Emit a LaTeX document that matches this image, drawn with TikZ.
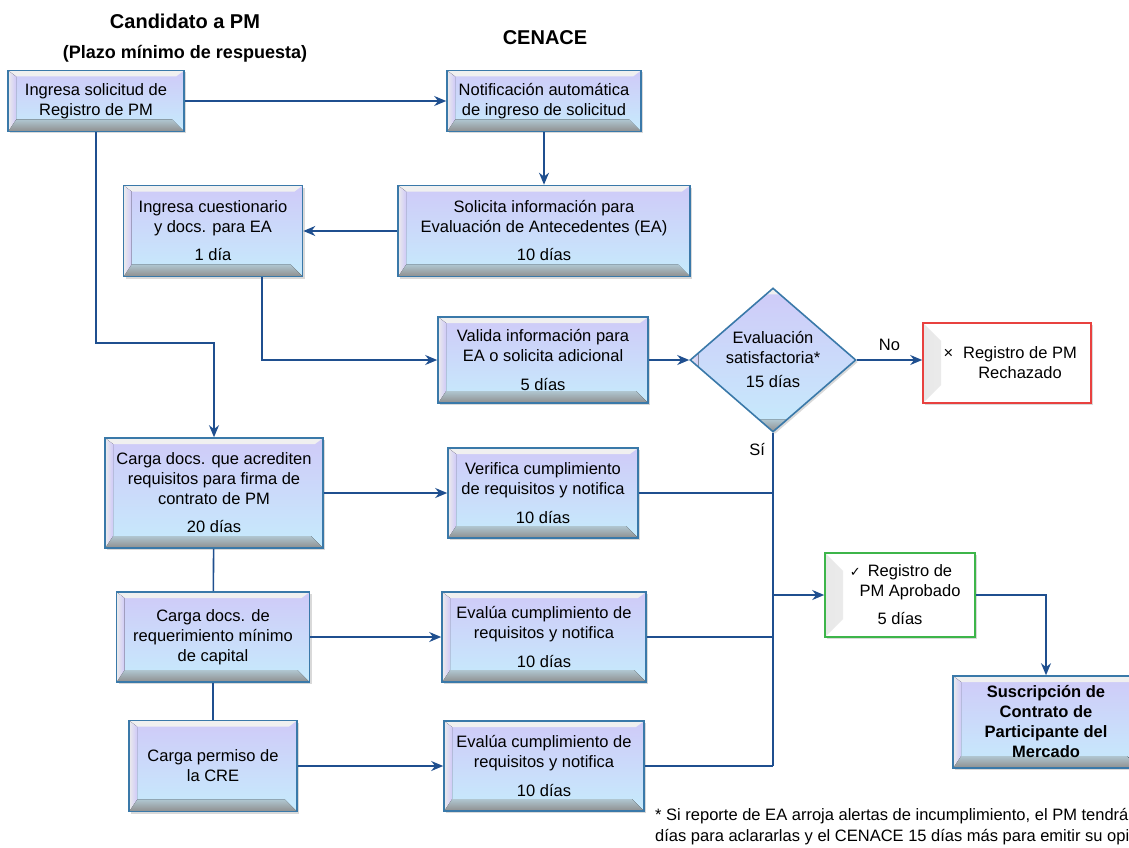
\documentclass[tikz,border=0pt]{standalone}
\usepackage{fontspec}
\setmainfont{Liberation Sans}
\newfontfamily\symfont{DejaVu Sans}
\usepackage{tikz}
\usetikzlibrary{arrows.meta}
\usetikzlibrary{shapes.geometric}
\usetikzlibrary{shadows}
\definecolor{boxline}{HTML}{3A79A9}
\definecolor{boxtop}{HTML}{CFCAF8}
\definecolor{boxmid}{HTML}{C6EBFC}
\definecolor{boxgray}{HTML}{8E8E8E}
\definecolor{arrowblue}{HTML}{1F4F8F}
\definecolor{redline}{HTML}{E8413F}
\definecolor{greenline}{HTML}{3DB54A}

\begin{document}
\begin{tikzpicture}[
    x=1pt, y=-1pt,
    every node/.style={color=black, font=\fontsize{16.5}{20}\selectfont},
    arrow line/.style={-{Stealth[length=12pt,width=10pt]}, line width=1.6pt, arrowblue},
    plain line/.style={line width=1.6pt, arrowblue},
    title/.style={font=\bfseries\fontsize{20}{24}\selectfont},
    bevel fill/.style={path picture={
        \fill[top color=boxtop, bottom color=boxmid]
            (path picture bounding box.north west) rectangle (path picture bounding box.south east);
        \fill[top color=boxmid!60!boxgray, bottom color=boxgray]
            ([yshift=12pt]path picture bounding box.south west) -- ([xshift=12pt,yshift=12pt]path picture bounding box.south west)
            -- ([xshift=-12pt,yshift=12pt]path picture bounding box.south east) -- (path picture bounding box.south east)
            -- (path picture bounding box.south west) -- cycle;
        \fill[gray!12] (path picture bounding box.north west) -- (path picture bounding box.north east)
            -- ([xshift=-8pt,yshift=-6pt]path picture bounding box.north east) -- ([xshift=8pt,yshift=-6pt]path picture bounding box.north west) -- cycle;
        \fill[left color=gray!15, right color=boxtop] (path picture bounding box.north west)
            -- ([xshift=8pt,yshift=-6pt]path picture bounding box.north west) -- ([xshift=8pt,yshift=12pt]path picture bounding box.south west)
            -- (path picture bounding box.south west) -- cycle;
    }},
    white fill/.style={fill=white, path picture={
        \fill[left color=gray!18, right color=white]
            (path picture bounding box.north west) -- ([xshift=18pt,yshift=-18pt]path picture bounding box.north west)
            -- ([xshift=18pt,yshift=18pt]path picture bounding box.south west) -- (path picture bounding box.south west) -- cycle;
    }},
    shadowed/.style={drop shadow={shadow xshift=2pt, shadow yshift=-2pt, opacity=.3}},
    blue box/.style={draw=boxline, line width=1.6pt, align=center, inner sep=2pt, bevel fill, shadowed},
    blue diamond/.style={diamond, aspect=1.15, inner sep=0pt, minimum width=166pt, minimum height=144pt,
        draw=boxline, line width=1.6pt, align=center, bevel fill, shadowed},
    end box/.style={line width=1.6pt, align=center, inner sep=2pt, white fill, shadowed}
    ]

    \useasboundingbox (0,0) rectangle (1129,848);

    % titles
    \node[title] (candidato) at (185,21) {Candidato a PM};
    \node[title, font=\bfseries\fontsize{18}{22}\selectfont] (plazo) at (185,54) {(Plazo mínimo de respuesta)};
    \node[title] (cenace) at (545,38) {CENACE};

    % candidate column
    \node[blue box, minimum width=176pt, minimum height=61pt] (solicitud) at (96,101)
        {Ingresa solicitud de\\Registro de PM};
    \node[blue box, minimum width=179pt, minimum height=91pt] (cuestionario) at (213,231)
        {Ingresa cuestionario\\y docs. para EA\\[8pt]1 día};
    \node[blue box, minimum width=218pt, minimum height=110pt] (cargaDocs) at (214,493)
        {Carga docs. que acrediten\\requisitos para firma de\\contrato de PM\\[8pt]20 días};
    \node[blue box, minimum width=193pt, minimum height=90pt] (cargaCapital) at (213,637)
        {Carga docs. de\\requerimiento mínimo\\de capital};
    \node[blue box, minimum width=168pt, minimum height=91pt] (cargaCRE) at (213,766)
        {Carga permiso de\\la CRE};

    % CENACE column
    \node[blue box, minimum width=194pt, minimum height=61pt] (notifica) at (544,101)
        {Notificación automática\\de ingreso de solicitud};
    \node[blue box, minimum width=292pt, minimum height=91pt] (infoEA) at (544,231)
        {Solicita información para\\Evaluación de Antecedentes (EA)\\[8pt]10 días};
    \node[blue box, minimum width=210pt, minimum height=86pt] (valida) at (543,360)
        {Valida información para\\EA o solicita adicional\\[9pt]5 días};
    \node[blue box, minimum width=190pt, minimum height=90pt] (verifica) at (543,493)
        {Verifica cumplimiento\\de requisitos y notifica\\[9pt]10 días};
    \node[blue box, minimum width=204pt, minimum height=90pt] (evaluaCapital) at (544,637)
        {Evalúa cumplimiento de\\requisitos y notifica\\[9pt]10 días};
    \node[blue box, minimum width=200pt, minimum height=90pt] (evaluaCRE) at (544,766)
        {Evalúa cumplimiento de\\requisitos y notifica\\[9pt]10 días};

    % decision and results
    \node[blue diamond] (evaluacion) at (773,360) {Evaluación\\satisfactoria*\\[4pt]15 días};
    \node[end box, draw=redline, minimum width=168pt, minimum height=80pt] (rechazado) at (1007,363)
        {\hspace*{26pt}\llap{×\hspace{10pt}}Registro de PM\\\hspace*{26pt}Rechazado};
    \node[end box, draw=greenline, minimum width=150pt, minimum height=84pt] (aprobado) at (900,595)
        {\hspace*{20pt}\llap{{\symfont\fontsize{13}{13}\selectfont ✓}\hspace{7pt}}Registro de\\\hspace*{20pt}PM Aprobado\\[8pt]5 días};
    \node[blue box, minimum width=186pt, minimum height=92pt, font=\bfseries\fontsize{16.5}{20}\selectfont]
        (suscripcion) at (1046,722) {Suscripción de\\Contrato de\\Participante del\\Mercado};

    % connectors
    \coordinate (codo) at (96,343);
    \coordinate (union) at (evaluacion.south |- evaluaCRE.east);
    \draw[arrow line] (solicitud) -- (notifica);
    \draw[arrow line] (notifica) -- (infoEA);
    \draw[arrow line] (infoEA) -- (cuestionario);
    \draw[arrow line] (solicitud.south) -- (codo) -| (cargaDocs.north);
    \draw[arrow line] ([xshift=49pt]cuestionario.south) |- (valida.west);
    \draw[arrow line] (valida) -- (evaluacion);
    \draw[arrow line] (evaluacion.east) -- node[above=5pt] {No} (evaluacion.east -| rechazado.west);
    \draw[plain line] (evaluacion.south) -- node[pos=0.05, left=4pt] {Sí} (union);
    \draw[arrow line] (cargaDocs) -- (verifica);
    \draw[arrow line] (cargaCapital) -- (evaluaCapital);
    \draw[arrow line] (cargaCRE) -- (evaluaCRE);
    \draw[plain line] (verifica.east) -- (verifica.east -| union);
    \draw[plain line] (evaluaCapital.east) -- (evaluaCapital.east -| union);
    \draw[plain line] (evaluaCRE.east) -- (union);
    \draw[arrow line] (union |- aprobado.west) -- (aprobado.west);
    \draw[plain line] (cargaDocs) -- (cargaCapital);
    \draw[plain line] (cargaCapital) -- (cargaCRE);
    \draw[arrow line] (aprobado.east) -| (suscripcion.north);

    % footnote
    \node[anchor=north west, align=left, inner sep=0pt, font=\fontsize{16.5}{21}\selectfont] (nota) at (655,808)
        {* Si reporte de EA arroja alertas de incumplimiento, el PM tendrá\\días para aclararlas y el CENACE 15 días más para emitir su opinión.};

\end{tikzpicture}
\end{document}
